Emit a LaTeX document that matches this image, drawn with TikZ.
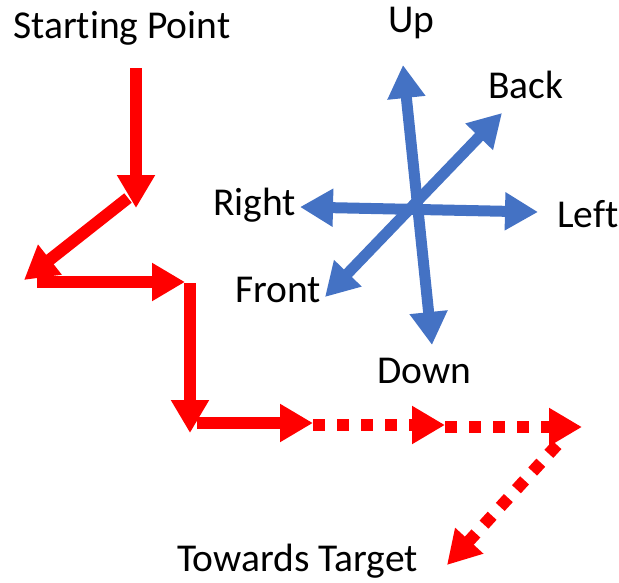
\documentclass[tikz,border=0pt]{standalone}
\usepackage{fontspec}
\setmainfont[Ligatures=NoCommon]{Carlito}
\usetikzlibrary{arrows.meta}
\definecolor{offblue}{HTML}{4472C4}
\definecolor{pathred}{HTML}{FF0000}
\tikzset{
  lbl/.style={anchor=base west, inner sep=0pt, font=\fontsize{39.5}{47}\selectfont, text=black},
  redarrow/.style={draw=pathred, line width=12pt, -{Triangle[length=33pt,width=36pt]}},
  reddash/.style={redarrow, dash pattern=on 12pt off 12pt},
  bluearrow/.style={draw=offblue, line width=11pt, {Triangle[length=33pt,width=36pt]}-{Triangle[length=33pt,width=36pt]}}
}
\begin{document}
\begin{tikzpicture}[x=1pt,y=-1pt]
\useasboundingbox (0,0) rectangle (619,582);
% labels
\node[lbl] (start) at (13,38) {Starting Point};
\node[lbl] (up) at (388,32) {Up};
\node[lbl] (back) at (488,98) {Back};
\node[lbl] (right) at (213,215) {Right};
\node[lbl] (left) at (557,227) {Left};
\node[lbl] (front) at (235,302) {Front};
\node[lbl] (down) at (377,383) {Down};
\node[lbl] (target) at (177,571) {Towards Target};
% blue axes
\coordinate (dn) at (432,345);
\coordinate (upt) at (403,65);
\coordinate (rt) at (300,207);
\coordinate (lf) at (538,212);
\coordinate (fr) at (325,297);
\coordinate (bk) at (502,113);
\draw[bluearrow] (dn) -- (upt);
\draw[bluearrow] (rt) -- (lf);
\draw[bluearrow] (fr) -- (bk);
% red path
\coordinate (p1) at (136,68);
\coordinate (p2) at (136,208);
\coordinate (p3) at (128,198);
\coordinate (p4) at (24,280);
\coordinate (p5) at (37,282);
\coordinate (p6) at (185,282);
\coordinate (p7) at (190,283);
\coordinate (p8) at (190,433);
\coordinate (p9) at (197,423);
\coordinate (p10) at (313,423);
\coordinate (p11) at (313,425);
\coordinate (p12) at (445,425);
\coordinate (p13) at (445,427);
\coordinate (p14) at (582,427);
\coordinate (p15) at (557,445);
\coordinate (p16) at (447,565);
\draw[redarrow] (p1) -- (p2);
\draw[redarrow] (p3) -- (p4);
\draw[redarrow] (p5) -- (p6);
\draw[redarrow] (p7) -- (p8);
\draw[redarrow] (p9) -- (p10);
\draw[reddash] (p11) -- (p12);
\draw[reddash] (p13) -- (p14);
\draw[reddash] (p15) -- (p16);
\end{tikzpicture}
\end{document}
